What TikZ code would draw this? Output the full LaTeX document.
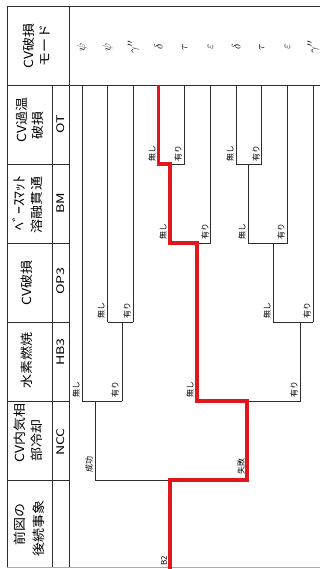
\documentclass[tikz,border=0pt]{standalone}
\usepackage{fontspec}
\usepackage{tikz}
\usetikzlibrary{positioning}
\newfontfamily\jpfont{Noto Sans CJK JP}
\newfontfamily\jpwide[FakeStretch=1.12]{Noto Sans CJK JP}
\newfontfamily\codefont[FakeStretch=1.35]{Noto Sans CJK JP}
\definecolor{treered}{RGB}{222,24,28}
\definecolor{gridgray}{RGB}{45,45,45}
\tikzset{
  grid line/.style={draw=gridgray, line width=0.8pt},
  branch/.style={draw=gridgray, line width=0.9pt},
  redpath/.style={draw=treered, line width=3.8pt, line join=miter},
  headtext/.style={font=\jpwide\fontsize{12.5}{13}\selectfont, rotate=90, inner sep=0pt},
  codetext/.style={font=\codefont\fontsize{10.5}{11}\selectfont, rotate=90, inner sep=0pt},
  brlabel/.style={font=\jpfont\fontsize{8}{9}\selectfont, rotate=90,
    anchor=south west, inner sep=0pt},
  modetext/.style={font=\fontsize{13}{14}\selectfont, rotate=90, inner sep=0pt},
}

\begin{document}
\begin{tikzpicture}[x=1pt, y=-1pt]
  \useasboundingbox (0,0) rectangle (320,569);
  % table frame
  \draw[grid line] (7,6) -- (320,6);
  \draw[grid line] (7,6) -- (7,567);
  \draw[grid line, gridgray!40] (7,567) -- (320,567);
  \draw[grid line] (69,6) -- (69,567);
  \draw[grid line] (52,85) -- (52,567);
  \draw[grid line] (7,85) -- (320,85);
  \draw[grid line] (7,164) -- (69,164);
  \draw[grid line] (7,243) -- (69,243);
  \draw[grid line] (7,322) -- (69,322);
  \draw[grid line] (7,401) -- (69,401);
  \draw[grid line] (7,480) -- (69,480);

  % headings
  \node[headtext] (hMode1) at (29,46) {CV破損};
  \node[headtext] (hMode2) at (45,46) {モード};
  \node[headtext] (hOT1) at (22,120) {CV過温};
  \node[headtext] (hOT2) at (38,126) {破損};
  \node[codetext] (cOT) at (61,124) {OT};
  \node[headtext, font=\jpwide\fontsize{14}{15}\selectfont] (hBM1) at (19,203) {ﾍﾞｰｽﾏｯﾄ};
  \node[headtext] (hBM2) at (37,205) {溶融貫通};
  \node[codetext] (cBM) at (61,203) {BM};
  \node[headtext] (hOP) at (27,283) {CV破損};
  \node[codetext] (cOP) at (61,281) {OP3};
  \node[headtext] (hHB) at (27,360) {水素燃焼};
  \node[codetext] (cHB) at (61,352) {HB3};
  \node[headtext] (hNCC1) at (20,433) {CV内気相};
  \node[headtext] (hNCC2) at (37,440) {部冷却};
  \node[codetext] (cNCC) at (61,442) {NCC};
  \node[headtext] (hPre1) at (20,524) {前図の};
  \node[headtext] (hPre2) at (39,528) {後続事象};

  % containment failure modes
  \node[modetext] (m1) at (82,47) {$\psi$};
  \node[modetext] (m2) at (107.7,47) {$\psi$};
  \node[modetext] (m3) at (133.4,47) {$\gamma''$};
  \node[modetext] (m4) at (158.5,47) {$\delta$};
  \node[modetext] (m5) at (184.8,47) {$\tau$};
  \node[modetext] (m6) at (210.5,47) {$\varepsilon$};
  \node[modetext] (m7) at (236.2,47) {$\delta$};
  \node[modetext] (m8) at (261.9,47) {$\tau$};
  \node[modetext] (m9) at (287.6,47) {$\varepsilon$};
  \node[modetext] (m10) at (313.3,47) {$\gamma''$};

  % branch points
  \coordinate (start) at (170,569);
  \coordinate (pNCC) at (170,480);
  \coordinate (pHBs) at (95,401);
  \coordinate (pHBf) at (247,401);
  \coordinate (pOPs) at (122,322);
  \coordinate (pOPf) at (300,322);
  \coordinate (pBMr) at (197,243);
  \coordinate (pBMf) at (273,243);
  \coordinate (pOTr) at (170,164);
  \coordinate (pOTf) at (248,164);

  % event tree branches
  \draw[branch] (pNCC) -- (95,480) -- (pHBs);
  \draw[branch] (82,401) -- (122,401);
  \draw[branch] (82,401) -- (m1 |- 0,85);
  \draw[branch] (122,401) -- (pOPs);
  \draw[branch] (m2 |- pOPs) -- (m3 |- pOPs);
  \draw[branch] (m2 |- pOPs) -- (m2 |- 0,85);
  \draw[branch] (m3 |- pOPs) -- (m3 |- 0,85);
  \draw[branch] (pHBf) -- (300,401) -- (pOPf);
  \draw[branch] (273,322) -- (m10 |- pOPf);
  \draw[branch] (m10 |- pOPf) -- (m10 |- 0,85);
  \draw[branch] (273,322) -- (pBMf);
  \draw[branch] (248,243) -- (m9 |- pBMf);
  \draw[branch] (m9 |- pBMf) -- (m9 |- 0,85);
  \draw[branch] (248,243) -- (pOTf);
  \draw[branch] (m7 |- pOTf) -- (m8 |- pOTf);
  \draw[branch] (m7 |- pOTf) -- (m7 |- 0,85);
  \draw[branch] (m8 |- pOTf) -- (m8 |- 0,85);
  \draw[branch] (pBMr) -- (m6 |- pBMr) -- (m6 |- 0,85);
  \draw[branch] (pOTr) -- (m5 |- pOTr) -- (m5 |- 0,85);
  % accident sequence
  \draw[redpath] (start) -- (pNCC) -- (247,480) -- (pHBf) -- (197,401)
    -- (pBMr) -- (170,243) -- (pOTr) -- (m4 |- pOTr) -- (m4 |- 0,85);

  % branch labels
  \node[brlabel] (lB2) at (167,566) {B2};
  \node[brlabel] (lSucc) at (93,473) {成功};
  \node[brlabel] (lFail) at (245,475) {失敗};
  \node[brlabel] (lHB1) at (80,398) {無し};
  \node[brlabel] (lHB2) at (119,398) {有り};
  \node[brlabel] (lHB3) at (194,398) {無し};
  \node[brlabel] (lHB4) at (298,398) {有り};
  \node[brlabel] (lOP1) at (105,319) {無し};
  \node[brlabel] (lOP2) at (131,319) {有り};
  \node[brlabel] (lOP3) at (271,319) {無し};
  \node[brlabel] (lOP4) at (311,319) {有り};
  \node[brlabel] (lBM1) at (167,240) {無し};
  \node[brlabel] (lBM2) at (209,240) {有り};
  \node[brlabel] (lBM3) at (246,240) {無し};
  \node[brlabel] (lBM4) at (285,240) {有り};
  \node[brlabel] (lOT1) at (156,162) {無し};
  \node[brlabel] (lOT2) at (182,162) {有り};
  \node[brlabel] (lOT3) at (234,162) {無し};
  \node[brlabel] (lOT4) at (260,162) {有り};
\end{tikzpicture}
\end{document}
